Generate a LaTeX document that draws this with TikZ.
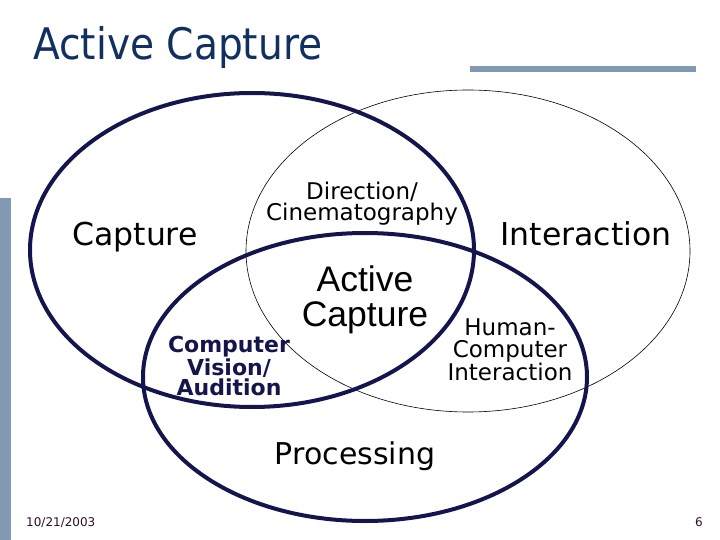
\documentclass[tikz,border=0pt]{standalone}
\usepackage{fontspec}
\setmainfont{DejaVu Sans}
\newfontfamily\arialfont{Liberation Sans}
\newfontfamily\tahomafont[FakeStretch=0.9]{DejaVu Sans}
\usepackage{xcolor}
\usepackage{tikz}
\usetikzlibrary{positioning}
\definecolor{NavyDark}{HTML}{15154D}
\definecolor{TitleNavy}{HTML}{12305F}
\definecolor{SteelBar}{HTML}{8199B2}
\definecolor{DatePurple}{HTML}{2E0E2E}

\begin{document}
\begin{tikzpicture}[
                x=1pt, y=-1pt,
                thickring/.style={draw=NavyDark, line width=4pt},
                thinring/.style={draw=black, line width=0.6pt},
                label/.style={inner sep=0pt, align=center, text=black},
                footer/.style={inner sep=0pt, text=DatePurple, font=\fontsize{12}{14}\selectfont}
            ]
                \useasboundingbox (0,0) rectangle (720,540);

                % Bars
                \fill[SteelBar] (0,198) rectangle (11,540);
                \fill[SteelBar] (470,66) rectangle (696,72);

                % Title
                \node[anchor=base west, inner sep=0pt, text=TitleNavy, font=\tahomafont\fontsize{43.5}{48}\selectfont] (title) at (33,60) {Active Capture};

                % Rings
                \draw[thinring] (468,251) ellipse [x radius=222pt, y radius=161pt];
                \draw[thickring] (252,250) ellipse [x radius=222pt, y radius=157pt];
                \draw[thickring] (365,377) ellipse [x radius=222pt, y radius=144pt];

                % Labels
                \node[label, anchor=base, font=\fontsize{31.5}{36}\selectfont] (capture) at (135,245) {Capture};
                \node[label, anchor=base, font=\fontsize{31.5}{36}\selectfont] (interaction) at (586,245) {Interaction};
                \node[label, anchor=base, font=\fontsize{30}{34}\selectfont] (processing) at (355,464) {Processing};
                \node[label, font=\fontsize{23}{21}\selectfont] (direction) at (362,204) {Direction/\\Cinematography};
                \node[label, font=\arialfont\fontsize{35.5}{35}\selectfont] (active) at (365,300) {Active\\Capture};
                \node[label, text=NavyDark, font=\bfseries\fontsize{22}{20}\selectfont] (vision) at (229,366) {Computer\\Vision/\\Audition};
                \node[label, font=\fontsize{23}{21.5}\selectfont] (hci) at (510,350) {Human-\\Computer\\Interaction};

                % Footer
                \node[footer, anchor=base west] (date) at (26,526) {10/21/2003};
                \node[footer, anchor=base east] (page) at (703,526) {6};
            \end{tikzpicture}
\end{document}
